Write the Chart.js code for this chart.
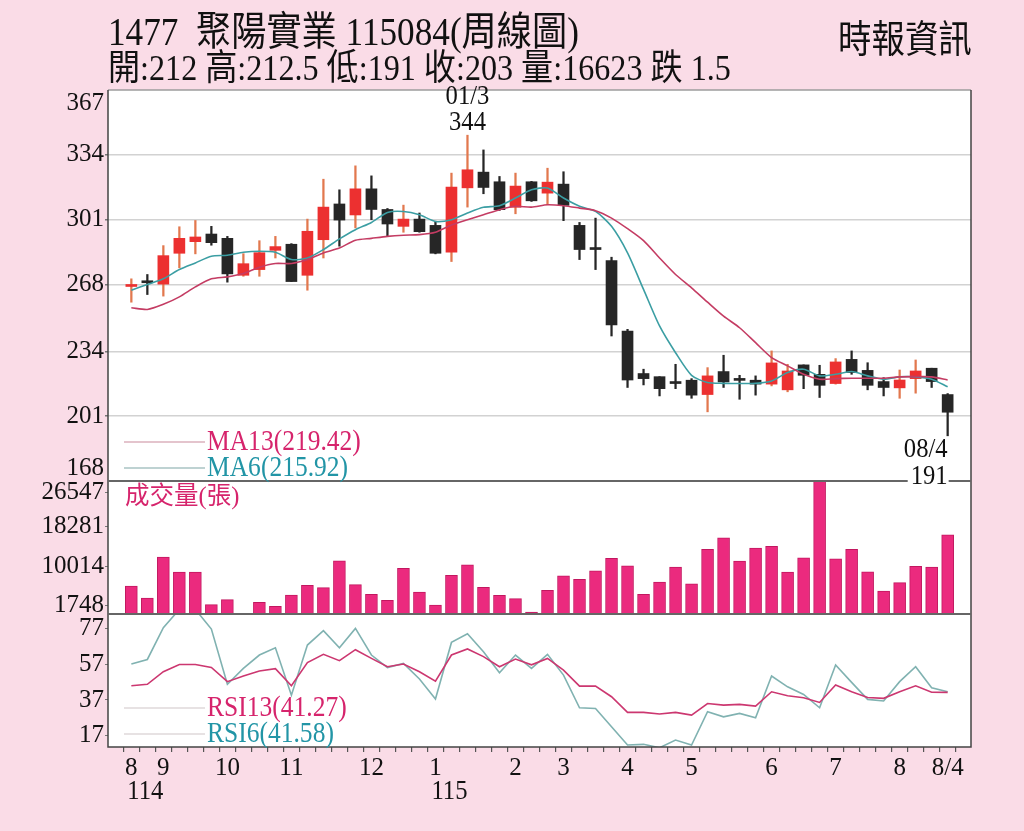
<!DOCTYPE html>
<html lang="zh-Hant">
<head>
<meta charset="UTF-8">
<title>1477 聚陽實業 周線圖</title>
<script src="https://cdn.jsdelivr.net/npm/chart.js@4"></script>
<style>
  html, body { margin: 0; padding: 0; background: #fadce7; }
  #wrap { position: relative; width: 1024px; height: 831px; overflow: hidden; background: #fadce7; }
  #chart { position: absolute; left: 0; top: 0; }
  .txt { position: absolute; white-space: pre; line-height: 1; color: #111;
         font-family: 'Liberation Serif', 'Noto Sans CJK TC', serif;
         transform-origin: 0 0; transform: scaleX(0.88); }
  #t1 { left: 108px; top: 12px; font-size: 40px; }
  #t2 { left: 108px; top: 50px; font-size: 36.5px; }
  #src { left: 838px; top: 17px; font-size: 38px; font-family: 'Noto Sans CJK TC', serif; }
</style>
</head>
<body>
<div id="wrap">
  <canvas id="chart" width="1024" height="831"></canvas>
  <div class="txt" id="t1">1477  聚陽實業 115084(周線圖)</div>
  <div class="txt" id="t2">開:212 高:212.5 低:191 收:203 量:16623 跌 1.5</div>
  <div class="txt" id="src">時報資訊</div>
</div>
<script>
// weekly bars, 114/08 .. 115/08
const xLabels = ['8','','9','','','','10','','','','11','','','','','12','','','','1','','','','','2','','','3','','','','4','','','','5','','','','','6','','','','7','','','','8','','','8/4'];
const years = ['114', '115'];
const yearStart = [0, 19];
const peakWeek = '01/3';
const lastWeek = '08/4';

const opens = [267.0,269.2,268.2,283.9,289.8,293.7,291.5,272.7,275.6,285.4, 288.5,272.7,290.8,309.0,303.4,316.7,306.2,297.6,301.3,298.1, 284.4,317.2,325.2,320.3,307.3,320.3,314.5,319.1,298.1,286.2, 280.2,244.3,222.7,221.1,217.9,219.3,212.0,223.7,219.6,219.3, 217.3,214.4,227.1,222.3,217.6,229.9,224.3,218.6,215.4,220.1, 225.4,212];
const highs = [270.9,273.1,287.8,297.4,300.6,297.6,292.5,283.7,290.3,292.5, 288.8,301.3,321.6,316.2,328.4,323.3,306.7,308.4,304.4,300.2, 324.7,344,336.5,323.0,324.7,320.5,327.2,325.4,299.6,301.8, 281.9,245.2,224.9,221.1,227.4,220.1,225.7,232.0,221.8,221.5, 234.2,227.4,227.1,226.9,230.3,234.2,228.2,220.6,224.5,229.6, 225.4,212.5];
const lows = [259.0,262.9,262.1,276.5,283.6,288.0,269.2,272.2,272.2,281.5, 269.5,265.1,281.5,287.5,296.8,301.0,292.5,294.6,294.6,283.6, 279.7,307.4,314.2,305.7,304.0,310.3,308.6,300.5,280.7,275.6, 241.8,215.6,216.9,211.3,215.0,210.1,203.2,215.6,209.6,211.7, 216.4,213.4,215.0,210.5,217.3,222.3,214.4,211.3,210.1,212.7, 215.6,191];
const closes = [267.5,268.9,282.7,291.5,292.2,289.3,273.4,278.6,284.2,287.3, 269.5,295.1,307.4,300.8,316.7,306.2,298.8,301.3,294.9,283.9, 317.6,326.4,317.4,306.1,318.1,310.6,320.1,308.3,285.8,285.8, 247.4,219.4,220.1,215.0,217.6,211.7,221.5,218.4,219.2,217.3, 228.1,224.0,221.8,216.7,228.6,223.2,216.7,215.6,219.4,224.0, 218.6,203];

const ma13 = [256.2,255.3,257.9,261.7,266.8,270.9,271.9,273.6,276.8,278.7, 278.7,280.7,284.1,286.6,290.5,291.5,292.5,293.1,293.4,294.6, 298.3,301.0,303.5,306.1,307.8,307.4,308.6,308.1,306.9,305.6, 301.8,296.4,290.3,281.5,273.1,266.3,259.0,251.9,246.0,238.4, 230.8,226.6,222.3,219.8,220.1,220.3,220.3,220.3,221.0,221.1, 221.0,219.42];
const ma6 = [265.1,268.0,270.9,275.6,279.0,282.4,282.9,284.4,284.9,284.4, 280.7,281.5,285.8,291.2,295.9,299.6,304.7,305.2,303.5,300.1, 301.0,304.4,307.3,308.1,312.0,316.2,317.1,312.0,307.8,305.2, 297.6,284.1,265.5,246.9,233.3,221.8,218.1,217.7,217.6,217.7, 218.9,223.2,224.9,221.5,222.3,223.7,221.5,219.8,221.0,221.0, 219.8,215.92];

const volumes = [5867,3352,11943,8800,8800,1956,3003,140,2444,1606, 3981,6006,5517,11174,6146,4121,2863,9568,4609,1886, 8101,10336,5587,3911,3213,419,4959,8032,7263,9079, 11663,10127,4121,6705,9847,6355,13549,15993,11105,13828, 14178,8800,11803,27900,11593,13549,8870,4819,6565,9987, 9847,16623];

const rsi13 = [45.0,45.8,52.9,57.0,57.0,55.3,47.3,50.5,53.3,54.6, 45.0,58.0,62.7,59.1,65.3,60.4,55.7,57.2,52.9,47.6, 62.3,65.7,61.4,55.7,60.0,56.8,60.4,53.8,44.8,44.8, 38.8,30.0,30.0,29.1,30.0,28.5,35.0,34.1,34.5,33.5, 41.6,39.4,38.2,35.6,45.4,41.6,38.4,37.9,41.6,45.0, 41.3,41.27];
const rsi6 = [57.2,59.8,77.7,88,88,76.9,45.8,54.8,62.3,66.4, 39.7,67.9,76.0,66.4,77.3,62.3,55.2,57.6,48.8,37.5, 69.4,74.3,64.2,52.3,62.3,54.8,62.7,51.0,32.6,32.2, 21.9,11.6,12.0,10.1,14.4,11.6,30.4,27.5,29.4,27.0, 50.5,44.4,40.1,32.6,56.7,46.9,37.3,36.4,47.3,55.7, 43.9,41.58];

const priceTicks = [168, 201, 234, 268, 301, 334, 367];
const volumeTicks = [1748, 10014, 18281, 26547];
const rsiTicks = [17, 37, 57, 77];

const SERIF = "'Liberation Serif', 'Noto Sans CJK TC', serif";
const RED = '#ec3030', RED_WICK = '#e2784e', BLACK = '#262626';
const MA13_C = '#c43c63', MA6_C = '#3b9ea3';
const RSI13_C = '#cc3770', RSI6_C = '#80b2b1';
const PINK_TXT = '#d6246c', TEAL_TXT = '#2295a6';

const up = closes.map((c, i) => c >= opens[i]);
const bodyColors = up.map(u => u ? RED : BLACK);
const wickColors = up.map(u => u ? RED_WICK : BLACK);

function txt(ctx, s, x, y, size, color, align, sx, family) {
  ctx.save();
  ctx.translate(x, y);
  ctx.scale(sx || 0.88, 1);
  ctx.font = size + 'px ' + (family || SERIF);
  ctx.fillStyle = color;
  ctx.textAlign = align || 'left';
  ctx.textBaseline = 'middle';
  ctx.fillText(s, 0, 0);
  ctx.restore();
}

function hline(ctx, x1, x2, y) {
  ctx.beginPath(); ctx.moveTo(x1, y); ctx.lineTo(x2, y); ctx.stroke();
}

const decor = {
  id: 'decor',
  beforeDraw(chart) {
    const { ctx, chartArea: a } = chart;
    ctx.save();
    ctx.fillStyle = '#fff';
    ctx.fillRect(a.left, a.top, a.right - a.left, a.bottom - a.top);
    ctx.restore();
  },
  // keep each series inside its own panel
  beforeDatasetDraw(chart, args) {
    const ds = chart.data.datasets[args.index];
    const s = chart.scales[ds.yAxisID];
    const a = chart.chartArea;
    chart.ctx.save();
    chart.ctx.beginPath();
    chart.ctx.rect(a.left, s.top, a.right - a.left, s.bottom - s.top);
    chart.ctx.clip();
  },
  afterDatasetDraw(chart) {
    chart.ctx.restore();
  },
  afterDraw(chart) {
    const { ctx, chartArea: a, scales } = chart;
    const { x, y, yv, yr } = scales;
    ctx.save();

    // frame and panel separators
    ctx.lineWidth = 1.5;
    ctx.strokeStyle = '#9c9c9c';
    hline(ctx, a.left, a.right, a.top);
    ctx.strokeStyle = '#444';
    ctx.beginPath();
    ctx.moveTo(a.left, a.top); ctx.lineTo(a.left, a.bottom); ctx.lineTo(a.right, a.bottom); ctx.lineTo(a.right, a.top);
    ctx.stroke();
    ctx.lineWidth = 2;
    ctx.strokeStyle = '#666';
    hline(ctx, a.left, a.right, yv.top);
    hline(ctx, a.left, a.right, yr.top);

    // legends
    const lx = a.left + 16, tx = a.left + 99;
    ctx.lineWidth = 1.2;
    ctx.strokeStyle = '#c98a9b';
    hline(ctx, lx, tx - 2, y.bottom - 39);
    ctx.strokeStyle = '#7ea6a6';
    hline(ctx, lx, tx - 2, y.bottom - 13);
    txt(ctx, 'MA13(' + ma13[ma13.length - 1].toFixed(2) + ')', tx, y.bottom - 39, 29, PINK_TXT);
    txt(ctx, 'MA6(' + ma6[ma6.length - 1].toFixed(2) + ')', tx, y.bottom - 13, 29, TEAL_TXT);

    ctx.strokeStyle = '#cfc6c8';
    hline(ctx, lx, tx - 2, yr.bottom - 39);
    hline(ctx, lx, tx - 2, yr.bottom - 13);
    txt(ctx, 'RSI13(' + rsi13[rsi13.length - 1].toFixed(2) + ')', tx, yr.bottom - 39, 29, PINK_TXT);
    txt(ctx, 'RSI6(' + rsi6[rsi6.length - 1].toFixed(2) + ')', tx, yr.bottom - 13, 29, TEAL_TXT);

    txt(ctx, '成交量(張)', a.left + 17, yv.top + 16, 25, PINK_TXT, 'left', 0.98);

    // highest high and last low marks
    const hi = Math.max(...highs), hiIdx = highs.indexOf(hi);
    const hx = x.getPixelForValue(hiIdx), hy = y.getPixelForValue(hi);
    txt(ctx, peakWeek, hx, hy - 39, 28, '#111', 'center');
    txt(ctx, String(hi), hx, hy - 13, 28, '#111', 'center');

    const lo = lows[lows.length - 1], lIdx = lows.length - 1;
    const lxp = x.getPixelForValue(lIdx), lyp = y.getPixelForValue(lo);
    txt(ctx, lastWeek, lxp, lyp + 14, 28, '#111', 'right');
    ctx.font = '28px ' + SERIF;
    const w = ctx.measureText(String(lo)).width * 0.88;
    ctx.fillStyle = '#fff';
    ctx.fillRect(lxp - w - 3, lyp + 31, w + 4, 20);
    txt(ctx, String(lo), lxp, lyp + 41, 28, '#111', 'right');

    // ROC year row under the month ticks
    years.forEach((yr0, k) => {
      txt(ctx, yr0, x.getPixelForValue(yearStart[k]) - 4, a.bottom + 45, 28, '#111', 'left');
    });
    ctx.restore();
  }
};

const idx = xLabels.map((_, i) => i);
const axisFont = { family: SERIF, size: 25 };

new Chart(document.getElementById('chart'), {
  type: 'bar',
  data: {
    labels: idx,
    datasets: [
      { type: 'line', label: 'MA13', data: ma13, yAxisID: 'y', borderColor: MA13_C, borderWidth: 1.6, pointRadius: 0, tension: 0.25, order: 0 },
      { type: 'line', label: 'MA6', data: ma6, yAxisID: 'y', borderColor: MA6_C, borderWidth: 1.6, pointRadius: 0, tension: 0.25, order: 0 },
      { label: 'body', data: opens.map((o, i) => [o, closes[i]]), yAxisID: 'y', backgroundColor: bodyColors,
        barThickness: 11, minBarLength: 2, grouped: false, order: 1 },
      { label: 'wick', data: lows.map((l, i) => [l, highs[i]]), yAxisID: 'y', backgroundColor: wickColors,
        barThickness: 1.6, grouped: false, order: 2 },
      { label: '成交量', data: volumes, yAxisID: 'yv', backgroundColor: '#eb2a7e', borderColor: '#c2175f',
        borderWidth: 1, barThickness: 12, grouped: false, order: 3 },
      { type: 'line', label: 'RSI13', data: rsi13, yAxisID: 'yr', borderColor: RSI13_C, borderWidth: 1.6, pointRadius: 0, tension: 0, order: 0 },
      { type: 'line', label: 'RSI6', data: rsi6, yAxisID: 'yr', borderColor: RSI6_C, borderWidth: 1.6, pointRadius: 0, tension: 0, order: 0 }
    ]
  },
  options: {
    responsive: false,
    animation: false,
    devicePixelRatio: 1,
    layout: { padding: { left: 0, top: 90, right: 53, bottom: 0 } },
    plugins: { legend: { display: false }, tooltip: { enabled: false } },
    scales: {
      x: {
        type: 'linear', min: -0.94, max: 51.94,
        afterBuildTicks: s => { s.ticks = idx.map(v => ({ value: v })); },
        afterFit: s => { s.height = 84; },
        ticks: { autoSkip: false, maxRotation: 0, padding: 1, color: '#111', font: axisFont,
                 callback: (v, i) => xLabels[i] },
        grid: { drawOnChartArea: false, tickLength: 5, color: '#555', lineWidth: 1.2 },
        border: { display: false }
      },
      y: {
        type: 'linear', position: 'left', stack: 'panels', stackWeight: 391, weight: 3,
        min: 168, max: 367,
        afterBuildTicks: s => {
          const last = priceTicks.length - 1;
          s.ticks = priceTicks.map((v, i) => ({ value: i === 0 ? v + 6.6 : i === last ? v - 6.6 : v }));
        },
        afterFit: s => { s.width = 108; },
        ticks: { autoSkip: false, padding: 1, color: '#111', font: axisFont, callback: (v, i) => String(priceTicks[i]) },
        grid: {
          color: c => (c.index === 0 || c.index === priceTicks.length - 1) ? 'rgba(0,0,0,0)' : '#d2d2d2',
          tickColor: c => (c.index === 0 || c.index === priceTicks.length - 1) ? 'rgba(0,0,0,0)' : '#777',
          lineWidth: 1.5, tickLength: 3
        },
        border: { display: false }
      },
      yv: {
        type: 'linear', position: 'left', stack: 'panels', stackWeight: 133, weight: 2,
        min: 0, max: 27900,
        // top label sits a little lower, clear of the price axis label
        afterBuildTicks: s => {
          const last = volumeTicks.length - 1;
          s.ticks = volumeTicks.map((v, i) => ({ value: i === last ? v - 1050 : v }));
        },
        afterFit: s => { s.width = 108; },
        ticks: { autoSkip: false, padding: 1, color: '#111', font: axisFont, callback: (v, i) => String(volumeTicks[i]) },
        grid: { drawOnChartArea: false, tickLength: 3, color: '#777' },
        border: { display: false }
      },
      yr: {
        type: 'linear', position: 'left', stack: 'panels', stackWeight: 133, weight: 1,
        min: 10.5, max: 85.4,
        afterBuildTicks: s => { s.ticks = rsiTicks.map(v => ({ value: v })); },
        afterFit: s => { s.width = 108; },
        ticks: { autoSkip: false, padding: 1, color: '#111', font: axisFont, callback: v => String(v) },
        grid: { drawOnChartArea: false, tickLength: 3, color: '#777' },
        border: { display: false }
      }
    }
  },
  plugins: [decor]
});
</script>
</body>
</html>
